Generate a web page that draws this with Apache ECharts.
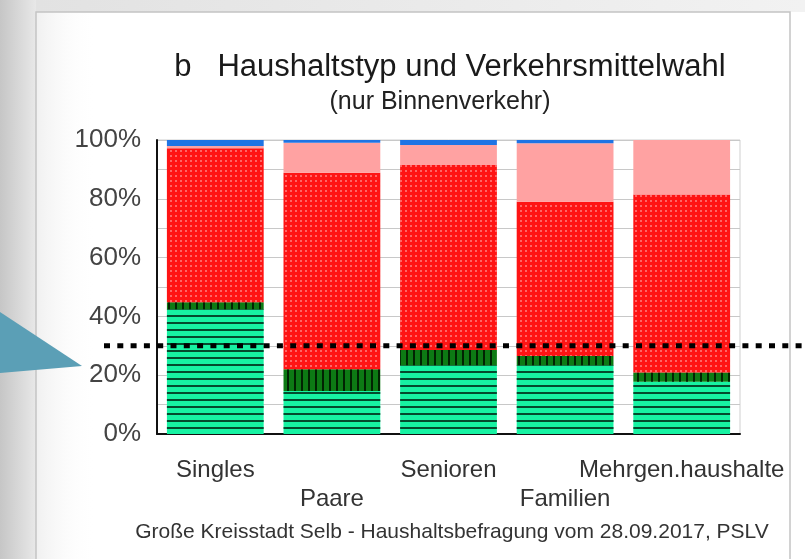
<!DOCTYPE html>
<html>
<head>
<meta charset="utf-8">
<script src="https://cdn.jsdelivr.net/npm/echarts@6/dist/echarts.min.js"></script>
<style>
    html, body { margin: 0; padding: 0; background: #fff; }
    #chart { width: 805px; height: 559px; }
</style>
</head>
<body>
<div id="chart"></div>
<script>
    // Anteile je Haushaltstyp in %, von unten nach oben gestapelt
    var categories = ['Singles', 'Paare', 'Senioren', 'Familien', 'Mehrgen.haushalte'];
    var fuss = [42.4, 14.6, 23.4, 23.4, 17.8];
    var rad = [2.4, 7.4, 5.2, 3.1, 3.1];
    var mivFahrer = [52.4, 66.9, 62.9, 52.5, 60.6];
    var mivMitfahrer = [0.8, 10.2, 6.8, 19.9, 18.5];
    var oepnv = [2.0, 0.9, 1.7, 1.1, 0];
    var yTicks = [0, 20, 40, 60, 80, 100];
    var markLevel = 30; // gepunktete Linie

    var font = 'Liberation Sans';
    var myChart = echarts.init(document.getElementById('chart'));

    var option = {
        animation: false,
        backgroundColor: '#fff',
        grid: {
            left: 157, right: 65, top: 140, bottom: 125,
            show: true, borderColor: '#cfcfcf', borderWidth: 1,
            outerBoundsMode: 'none'
        },
        xAxis: {
            type: 'category',
            data: categories,
            axisLine: { show: true, lineStyle: { color: '#111', width: 2 } },
            axisTick: { show: false },
            axisLabel: {
                interval: 0,
                margin: 22,
                color: '#333',
                fontFamily: font,
                fontSize: 24,
                lineHeight: 29,
                formatter: function (v, i) { return i % 2 ? '\n' + v : v; }
            }
        },
        yAxis: {
            type: 'value',
            min: 0, max: 100, interval: 10,
            axisLine: { show: true, lineStyle: { color: '#111', width: 2 } },
            axisTick: { show: false },
            splitLine: { lineStyle: { color: '#c8c8c8', width: 1 } },
            axisLabel: {
                margin: 16,
                color: '#444',
                fontFamily: font,
                fontSize: 26,
                formatter: function (v) { return yTicks.indexOf(v) >= 0 ? v + '%' : ''; }
            }
        },
        series: [
            {
                name: 'zu Fuß', type: 'bar', stack: 'total', barCategoryGap: '17%',
                data: fuss,
                itemStyle: {
                    color: '#17f2a2',
                    decal: { symbol: 'rect', symbolSize: 1, dashArrayX: [1, 0], dashArrayY: [2, 5], rotation: 0, color: 'rgba(0,45,25,0.85)' }
                }
            },
            {
                name: 'Fahrrad', type: 'bar', stack: 'total',
                data: rad,
                itemStyle: {
                    color: '#0d7a14',
                    decal: { symbol: 'rect', symbolSize: 1, dashArrayX: [2, 5], dashArrayY: [1, 0], rotation: 0, color: 'rgba(0,25,0,0.9)' }
                }
            },
            {
                name: 'MIV-Fahrer', type: 'bar', stack: 'total',
                data: mivFahrer,
                itemStyle: {
                    color: '#ff1414',
                    decal: { symbol: 'rect', symbolSize: 1, dashArrayX: [1.5, 3], dashArrayY: [1.5, 3], rotation: 0, color: 'rgba(255,170,170,0.55)' }
                }
            },
            {
                name: 'MIV-Mitfahrer', type: 'bar', stack: 'total',
                data: mivMitfahrer,
                itemStyle: { color: '#ffa2a2' }
            },
            {
                name: 'ÖPNV', type: 'bar', stack: 'total',
                data: oepnv,
                itemStyle: { color: '#1f74e4' }
            }
        ],
        graphic: [
            // grauer Rand links / oben
            {
                type: 'rect', id: 'bgLeft', z: -10, silent: true,
                shape: { x: 0, y: 0, width: 36, height: 559 },
                style: {
                    fill: new echarts.graphic.LinearGradient(0, 0, 1, 0, [
                        { offset: 0, color: '#c6c6c6' },
                        { offset: 1, color: '#e8e8e8' }
                    ])
                }
            },
            {
                type: 'rect', id: 'bgTop', z: -10, silent: true,
                shape: { x: 36, y: 0, width: 769, height: 12 },
                style: {
                    fill: new echarts.graphic.LinearGradient(0, 0, 1, 0, [
                        { offset: 0, color: '#e2e2e2' },
                        { offset: 1, color: '#f2f2f2' }
                    ])
                }
            },
            {
                type: 'rect', id: 'panelShade', z: -9, silent: true,
                shape: { x: 36, y: 12, width: 60, height: 547 },
                style: {
                    fill: new echarts.graphic.LinearGradient(0, 0, 1, 0, [
                        { offset: 0, color: '#f0f0f0' },
                        { offset: 1, color: 'rgba(255,255,255,0)' }
                    ])
                }
            },
            {
                type: 'rect', id: 'panel', z: -8, silent: true,
                shape: { x: 36, y: 12, width: 754, height: 570 },
                style: { fill: 'none', stroke: '#c4c4c4', lineWidth: 1.5 }
            },
            {
                type: 'polygon', id: 'arrow', z: 50, silent: true,
                shape: { points: [[0, 312], [82, 366], [0, 373]] },
                style: { fill: '#5b9fb6' }
            },
            {
                type: 'text', id: 'title', silent: true,
                style: {
                    x: 450, y: 67, text: 'b   Haushaltstyp und Verkehrsmittelwahl',
                    textAlign: 'center', textVerticalAlign: 'middle',
                    font: '31px "' + font + '"', fill: '#1a1a1a'
                }
            },
            {
                type: 'text', id: 'subtitle', silent: true,
                style: {
                    x: 440, y: 102, text: '(nur Binnenverkehr)',
                    textAlign: 'center', textVerticalAlign: 'middle',
                    font: '25px "' + font + '"', fill: '#222'
                }
            },
            {
                type: 'text', id: 'footer', silent: true,
                style: {
                    x: 452, y: 532, text: 'Große Kreisstadt Selb - Haushaltsbefragung vom 28.09.2017, PSLV',
                    textAlign: 'center', textVerticalAlign: 'middle',
                    font: '21px "' + font + '"', fill: '#333'
                }
            }
        ]
    };
    myChart.setOption(option);

    // gepunktete Linie auf Höhe markLevel, ragt über die Zeichenfläche hinaus
    var yLine = myChart.convertToPixel({ yAxisIndex: 0 }, markLevel);
    myChart.setOption({
        graphic: [{
            type: 'line', id: 'dotted', z: 100, silent: true,
            shape: { x1: 104, y1: yLine, x2: 805, y2: yLine },
            style: { stroke: '#000', lineWidth: 5, lineDash: [6, 7.3] }
        }]
    });
</script>
</body>
</html>
